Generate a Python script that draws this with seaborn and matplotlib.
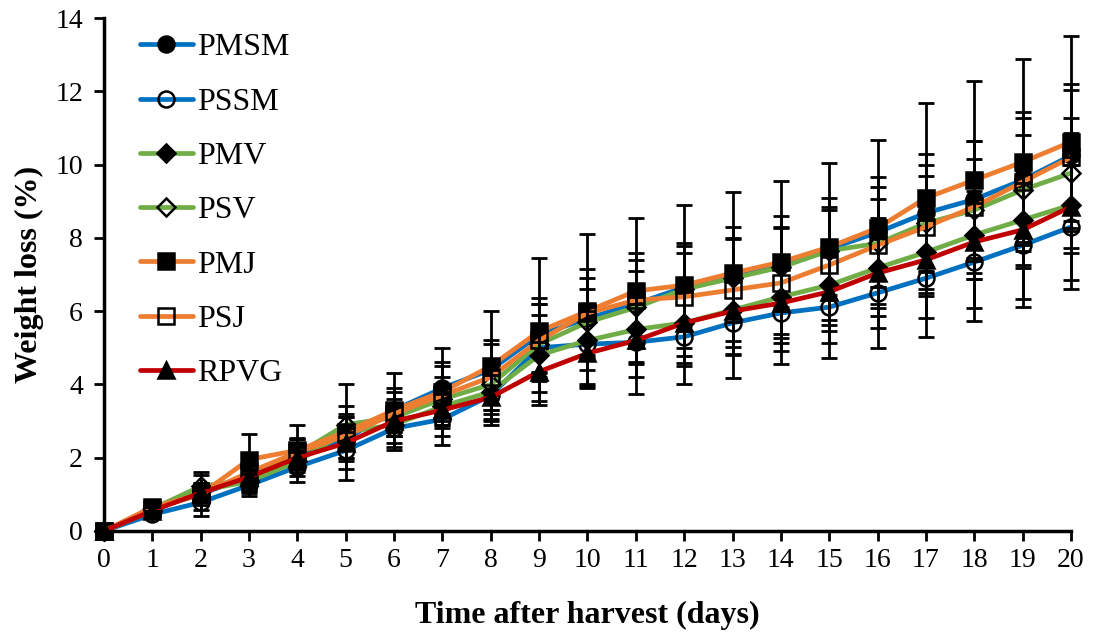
import numpy as np
import pandas as pd
import matplotlib
matplotlib.use("Agg")
import matplotlib.pyplot as plt
import seaborn as sns

days = list(range(0, 21))
series_names = ["PMSM", "PSSM", "PMV", "PSV", "PMJ", "PSJ", "RPVG"]

pmsm = [0, 0.60, 1.00, 1.50, 2.10, 2.50, 3.30, 3.90, 4.40, 5.35, 5.80, 6.20, 6.65, 7.00, 7.30, 7.70, 8.15, 8.68, 9.05, 9.58, 10.25]
pssm = [0, 0.45, 0.78, 1.25, 1.75, 2.20, 2.80, 3.05, 3.70, 5.00, 5.10, 5.15, 5.30, 5.68, 5.95, 6.11, 6.50, 6.90, 7.34, 7.80, 8.30]
pmv = [0, 0.55, 1.10, 1.35, 1.90, 2.70, 2.90, 3.40, 3.80, 4.80, 5.20, 5.50, 5.68, 6.03, 6.39, 6.71, 7.18, 7.61, 8.08, 8.49, 8.90]
psv = [0, 0.60, 1.22, 1.40, 2.10, 2.90, 3.10, 3.60, 4.00, 5.10, 5.70, 6.10, 6.60, 6.90, 7.20, 7.65, 7.85, 8.40, 8.76, 9.31, 9.77]
pmj = [0, 0.65, 1.00, 1.95, 2.20, 2.70, 3.30, 3.80, 4.50, 5.45, 6.00, 6.55, 6.71, 7.04, 7.34, 7.75, 8.27, 9.09, 9.58, 10.07, 10.62]
psj = [0, 0.60, 1.00, 1.60, 2.15, 2.60, 3.20, 3.70, 4.20, 5.20, 5.95, 6.30, 6.39, 6.58, 6.77, 7.26, 7.80, 8.30, 8.85, 9.53, 10.20]
rpvg = [0, 0.55, 1.04, 1.47, 2.00, 2.40, 3.00, 3.30, 3.65, 4.35, 4.85, 5.20, 5.68, 6.00, 6.22, 6.53, 7.04, 7.40, 7.89, 8.22, 8.85]

pmsm_sd = [0, 0.10, 0.30, 0.40, 0.40, 0.60, 0.60, 0.70, 0.80, 1.00, 1.10, 1.20, 1.20, 1.30, 1.30, 1.40, 1.50, 1.60, 1.60, 1.70, 1.80]
pssm_sd = [0, 0.10, 0.20, 0.30, 0.40, 0.50, 0.60, 0.70, 0.80, 1.20, 1.10, 1.40, 1.30, 1.50, 1.40, 1.40, 1.50, 1.60, 1.60, 1.70, 1.70]
pmv_sd = [0, 0.10, 0.20, 0.30, 0.30, 0.40, 0.50, 0.50, 0.60, 0.70, 0.80, 0.90, 0.90, 1.00, 1.00, 1.10, 1.10, 1.20, 1.20, 1.30, 1.30]
psv_sd = [0, 0.10, 0.30, 0.30, 0.40, 0.50, 0.50, 0.60, 0.70, 0.80, 0.90, 1.00, 1.00, 1.10, 1.10, 1.20, 1.20, 1.30, 1.40, 1.50, 1.50]
pmj_sd = [0, 0.10, 0.60, 0.70, 0.70, 1.30, 1.00, 1.20, 1.50, 2.00, 2.10, 2.00, 2.20, 2.20, 2.20, 2.30, 2.40, 2.60, 2.70, 2.80, 2.90]
psj_sd = [0, 0.10, 0.20, 0.40, 0.40, 0.60, 0.60, 0.80, 0.90, 1.00, 1.20, 1.30, 1.40, 1.40, 1.50, 1.50, 1.60, 1.70, 1.80, 1.90, 2.00]
rpvg_sd = [0, 0.10, 0.20, 0.30, 0.30, 0.40, 0.40, 0.50, 0.60, 0.80, 0.90, 1.00, 1.10, 1.20, 1.30, 1.40, 1.50, 1.60, 1.80, 1.90, 2.00]

means = [pmsm, pssm, pmv, psv, pmj, psj, rpvg]
sds = [pmsm_sd, pssm_sd, pmv_sd, psv_sd, pmj_sd, psj_sd, rpvg_sd]

colors = ["#0070C0", "#0070C0", "#70AD47", "#70AD47", "#ED7D31", "#ED7D31", "#C00000"]
markers = ["o", "o", "D", "D", "s", "s", "^"]
filled = [True, False, True, False, True, False, True]
msizes = [11.5, 11.5, 9, 9, 11, 11, 11.5]

sns.set_style("ticks")
plt.rcParams["font.family"] = ["Liberation Serif", "DejaVu Serif"]
plt.rcParams["text.color"] = "black"
plt.rcParams["axes.labelcolor"] = "black"

fig = plt.figure(figsize=(10.94, 6.34), dpi=100)
ax = fig.add_axes([0.095, 0.1625, 0.884, 0.809])

for name, m, sd, c, mk, fl, ms in zip(series_names, means, sds, colors, markers, filled, msizes):
    df = pd.DataFrame({"day": days, "val": m})
    sns.lineplot(data=df, x="day", y="val", ax=ax, color=c, linewidth=3.4,
                 marker=mk, markersize=ms,
                 markerfacecolor=("black" if fl else "none"),
                 markeredgecolor="black", markeredgewidth=1.8,
                 label=name, clip_on=False, zorder=3)
    ax.errorbar(days, m, yerr=sd, fmt="none", ecolor="black", elinewidth=2.0,
                capsize=6, capthick=2.0, zorder=4, clip_on=False)

ax.set_xlim(0, 20)
ax.set_ylim(0, 14)
ax.set_xticks(days)
ax.set_yticks(range(0, 15, 2))
ax.tick_params(axis="both", labelsize=20, width=2, length=7, direction="out",
               colors="black", labelcolor="black")
ax.tick_params(axis="x", pad=5)
ax.tick_params(axis="y", pad=8)
for side in ["top", "right"]:
    ax.spines[side].set_visible(False)
for side in ["left", "bottom"]:
    ax.spines[side].set_linewidth(2.5)
    ax.spines[side].set_color("black")

ax.set_xlabel("Time after harvest (days)", fontsize=23, fontweight="bold", labelpad=20, color="black")
ax.set_ylabel("Weight loss (%)", fontsize=23, fontweight="bold", labelpad=8, color="black")

leg = ax.legend(loc="upper left", bbox_to_anchor=(0.017, 1.008), frameon=False,
                fontsize=23, handlelength=1.66, handletextpad=0.15, labelspacing=0.78,
                borderaxespad=0.2)
for t in leg.get_texts():
    t.set_color("black")

fig.savefig("out.png", dpi=100)
